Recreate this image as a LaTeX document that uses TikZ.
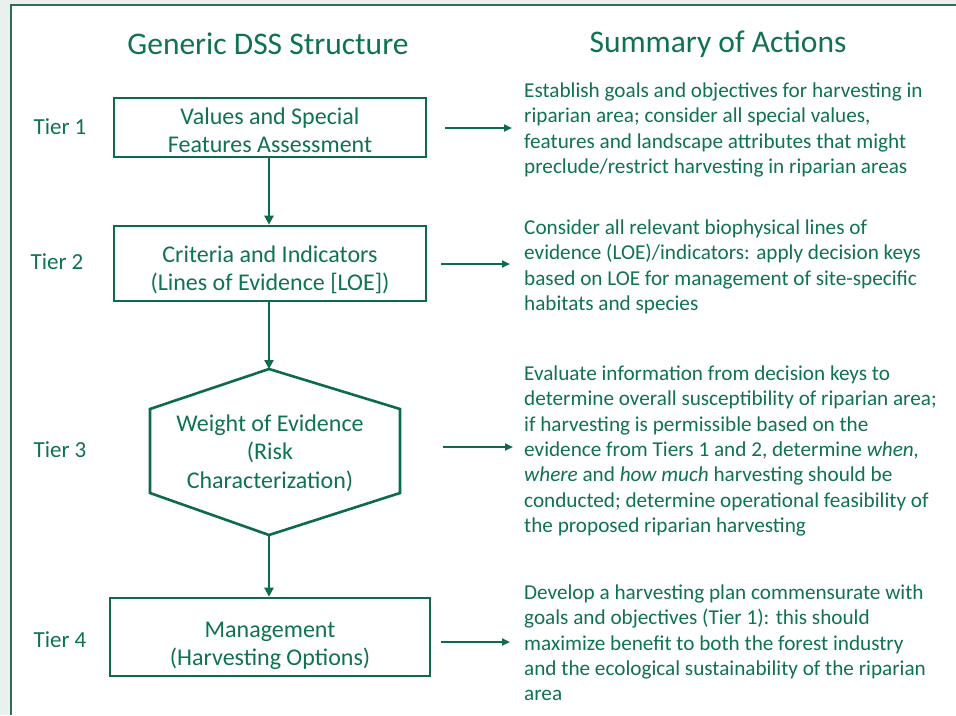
\documentclass[tikz,border=0pt]{standalone}
\usepackage{fontspec}
\setmainfont{Carlito}
\usetikzlibrary{arrows.meta}
\definecolor{bgc}{HTML}{EAF0EE}
\definecolor{frame}{HTML}{2F6B55}
\definecolor{txt}{HTML}{10734F}
\definecolor{ln}{HTML}{0B6B4B}
\tikzset{
  boxnode/.style={draw=ln, line width=2.6pt, minimum width=312pt, inner sep=0pt},
  boxtext/.style={text=txt, align=center, inner sep=0pt, font=\fontsize{24}{28.5}\selectfont},
  tiernode/.style={text=txt, font=\fontsize{23}{26}\selectfont, inner sep=0pt},
  titlenode/.style={text=txt, font=\fontsize{31.5}{36}\selectfont, inner sep=0pt},
  sumnode/.style={text=txt, align=left, anchor=north west, inner sep=0pt, font=\fontsize{21.2}{25.4}\selectfont},
  conn/.style={draw=ln, line width=2.4pt, -{Triangle[length=9pt,width=9pt]}},
  sideconn/.style={draw=ln, line width=2.2pt, -{Triangle[length=8pt,width=7pt]}},
}
\begin{document}
\begin{tikzpicture}[x=1pt,y=-1pt]
\useasboundingbox (0,0) rectangle (956,715);
\fill[bgc] (0,0) rectangle (956,715);
\fill[white] (11,5) rectangle (956,715);
\draw[frame, line width=1.4pt] (11,715) -- (11,5) -- (956,5);

\node[titlenode] (t1) at (268,44) {Generic DSS Structure};
\node[titlenode] (t2) at (718,44) {Summary of Actions};

% boxes
\node[boxnode, minimum height=59pt] (b1) at (270,127.5) {};
\node[boxtext] (b1t) at (270,130.5) {Values and Special\\Features Assessment};
\node[boxnode, minimum height=75pt] (b2) at (270,263.5) {};
\node[boxtext] (b2t) at (270,270) {Criteria and Indicators\\(Lines of Evidence [LOE])};
\node[boxnode, minimum width=320pt, minimum height=78pt] (b4) at (270,637) {};
\node[boxtext] (b4t) at (270,646) {Management\\(Harvesting Options)};

% hexagon
\coordinate (hT) at (269,369);
\coordinate (hB) at (269,535);
\draw[ln, line width=2.6pt] (hT) -- (400,409) -- (400,493) -- (hB) -- (150,493) -- (150,409) -- cycle;
\node[boxtext] (b3) at (270,453) {Weight of Evidence\\(Risk\\Characterization)};

% tiers
\node[tiernode] (r1) at (60,127) {Tier 1};
\node[tiernode] (r2) at (57,262) {Tier 2};
\node[tiernode] (r3) at (60,450) {Tier 3};
\node[tiernode] (r4) at (60,640) {Tier 4};

% vertical arrows
\draw[conn] (b1.south -| hT) -- (b2.north -| hT);
\draw[conn] (b2.south -| hT) -- (hT);
\draw[conn] (hB) -- (b4.north -| hT);

% summaries
\node[sumnode] (s1) at (524,82.4) {Establish goals and objectives for harvesting in\\riparian area; consider all special values,\\features and landscape attributes that might\\preclude/restrict harvesting in riparian areas};
\node[sumnode] (s2) at (524,219.4) {Consider all relevant biophysical lines of\\evidence (LOE)/indicators: apply decision keys\\based on LOE for management of site-specific\\habitats and species};
\node[sumnode] (s3) at (524,365.4) {Evaluate information from decision keys to\\determine overall susceptibility of riparian area;\\if harvesting is permissible based on the\\evidence from Tiers 1 and 2, determine \textit{when,}\\\textit{where} and \textit{how much} harvesting should be\\conducted; determine operational feasibility of\\the proposed riparian harvesting};
\node[sumnode] (s4) at (524,584.4) {Develop a harvesting plan commensurate with\\goals and objectives (Tier 1): this should\\maximize benefit to both the forest industry\\and the ecological sustainability of the riparian\\area};

% side arrows
\coordinate (a1s) at (445,128); \coordinate (a1e) at (512,128);
\coordinate (a2s) at (441,264); \coordinate (a2e) at (510,264);
\coordinate (a3s) at (443,447); \coordinate (a3e) at (513,447);
\coordinate (a4s) at (441,642); \coordinate (a4e) at (510,642);
\draw[sideconn] (a1s) -- (a1e);
\draw[sideconn] (a2s) -- (a2e);
\draw[sideconn] (a3s) -- (a3e);
\draw[sideconn] (a4s) -- (a4e);
\end{tikzpicture}
\end{document}
